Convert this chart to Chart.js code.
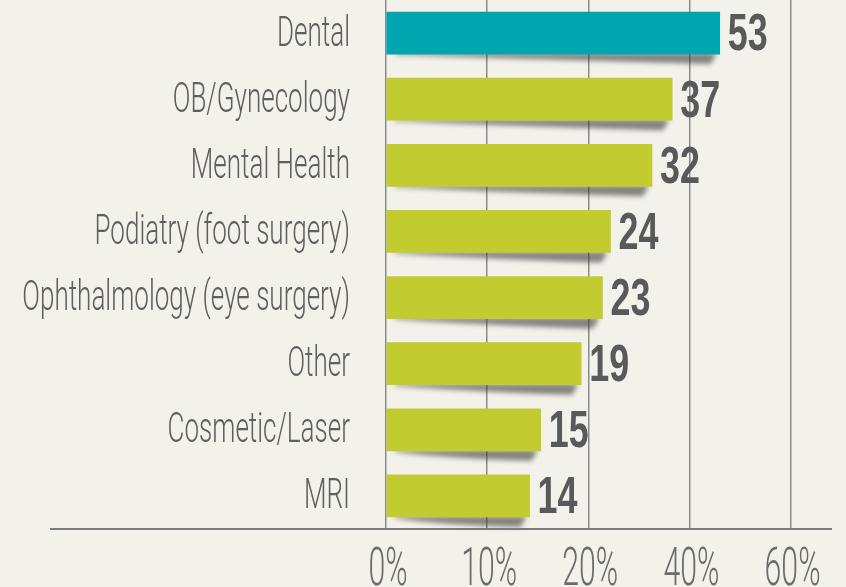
<!DOCTYPE html>
<html>
<head>
<meta charset="utf-8">
<script src="https://cdn.jsdelivr.net/npm/chart.js@4/dist/chart.umd.min.js"></script>
<style>
  html, body { margin: 0; padding: 0; background: #f3f2ea; }
  #wrap { width: 846px; height: 587px; position: relative; }
</style>
</head>
<body>
<div id="wrap"><canvas id="chart"></canvas></div>
<script>
const categories = [
  "Dental",
  "OB/Gynecology",
  "Mental Health",
  "Podiatry (foot surgery)",
  "Ophthalmology (eye surgery)",
  "Other",
  "Cosmetic/Laser",
  "MRI"
];
// numbers printed next to the bars
const shownValues = [53, 37, 32, 24, 23, 19, 15, 14];
// bar lengths as read against the printed axis (percent)
const barPercents = [46, 36.6, 32.6, 24.4, 22.8, 19.3, 15.3, 14.2];
// the axis is printed with uneven steps: equal spacing, unequal values
const tickPercents = [0, 10, 20, 40, 60];
const tickLabels = ["0%", "10%", "20%", "40%", "60%"];
const axisMaxPercent = 68.2;

function percentToStep(v) {
  const n = tickPercents.length;
  for (let i = 1; i < n; i++) {
    if (v <= tickPercents[i] || i === n - 1) {
      const a = tickPercents[i - 1], b = tickPercents[i];
      return (i - 1) + (v - a) / (b - a);
    }
  }
  return 0;
}

function stepToPercent(s) {
  const n = tickPercents.length;
  const i = Math.max(0, Math.min(n - 2, Math.floor(s)));
  const a = tickPercents[i], b = tickPercents[i + 1];
  return a + (s - i) * (b - a);
}

// linear scale that places the printed ticks evenly
class StepScale extends Chart.LinearScale {
  static id = "steps";
  static defaults = { ticks: { callback: v => v + "%" } };
  determineDataLimits() {
    this.min = 0;
    this.max = percentToStep(this.options.max);
  }
  buildTicks() {
    return tickPercents.map(v => ({ value: v }));
  }
  getPixelForValue(v) {
    return super.getPixelForValue(percentToStep(v));
  }
  getValueForPixel(p) {
    return stepToPercent(super.getValueForPixel(p));
  }
}
Chart.register(StepScale);

const textColor = "#58595b";
const boldFamily = '"Liberation Sans", Arial, sans-serif';
const lightFamily = 'Roboto, "Liberation Sans", sans-serif';

function squeezeText(ctx, text, x, y, sx, align) {
  ctx.save();
  ctx.translate(x, y);
  ctx.scale(sx, 1);
  ctx.textAlign = align;
  ctx.fillText(text, 0, 0);
  ctx.restore();
}

const decor = {
  id: "decor",
  beforeDatasetsDraw(chart) {
    const ctx = chart.ctx;
    const bars = chart.getDatasetMeta(0).data;
    ctx.save();
    ctx.filter = "blur(2.5px)";
    ctx.fillStyle = "rgba(55,55,55,0.6)";
    bars.forEach(b => {
      const bottom = b.y + b.height / 2;
      const left = b.base + 8;
      const right = b.x;
      ctx.beginPath();
      ctx.moveTo(left, bottom - 1);
      ctx.lineTo(right - 3, bottom - 1);
      ctx.lineTo(right - 9, bottom + 10);
      ctx.quadraticCurveTo(right - 90, bottom + 8, left, bottom + 1);
      ctx.closePath();
      ctx.fill();
    });
    ctx.restore();
  },
  afterDatasetsDraw(chart) {
    const ctx = chart.ctx;
    const xs = chart.scales.x;
    const ys = chart.scales.y;
    const bars = chart.getDatasetMeta(0).data;
    ctx.save();
    ctx.fillStyle = textColor;
    ctx.textBaseline = "middle";

    // numbers at bar ends
    ctx.font = "bold 52px " + boldFamily;
    bars.forEach((b, i) => {
      squeezeText(ctx, String(shownValues[i]), b.x + 8, b.y + 3, 0.69, "left");
    });

    // category labels
    ctx.font = "300 42px " + lightFamily;
    ctx.fillStyle = "#5e5f61";
    categories.forEach((c, i) => {
      squeezeText(ctx, c, xs.left - 36, ys.getPixelForTick(i) + 2, 0.62, "right");
    });

    // axis tick labels
    ctx.font = "300 53px " + lightFamily;
    ctx.fillStyle = "#6a6b6d";
    ctx.textBaseline = "alphabetic";
    tickPercents.forEach((v, i) => {
      squeezeText(ctx, tickLabels[i], xs.getPixelForValue(v) + 2, 585, 0.57, "center");
    });

    // bottom axis line
    ctx.strokeStyle = "#7b7b7b";
    ctx.lineWidth = 2;
    ctx.beginPath();
    ctx.moveTo(50, xs.bottom);
    ctx.lineTo(xs.right, xs.bottom);
    ctx.stroke();
    ctx.restore();
  }
};

new Chart(document.getElementById("chart"), {
  type: "bar",
  data: {
    labels: categories,
    datasets: [{
      data: barPercents,
      backgroundColor: categories.map((c, i) => i === 0 ? "#00a5b0" : "#c2cb2f"),
      barThickness: 42,
      borderWidth: 0
    }]
  },
  options: {
    indexAxis: "y",
    responsive: true,
    maintainAspectRatio: false,
    animation: false,
    layout: { padding: { left: 386, right: 14, top: 0, bottom: 58 } },
    plugins: {
      legend: { display: false },
      tooltip: { enabled: false }
    },
    scales: {
      x: {
        type: "steps",
        min: 0,
        max: axisMaxPercent,
        grid: { color: "#8a8a8a", lineWidth: 1.5, drawTicks: false },
        border: { display: false },
        ticks: { display: false }
      },
      y: {
        type: "category",
        display: false
      }
    }
  },
  plugins: [decor]
});
</script>
</body>
</html>
